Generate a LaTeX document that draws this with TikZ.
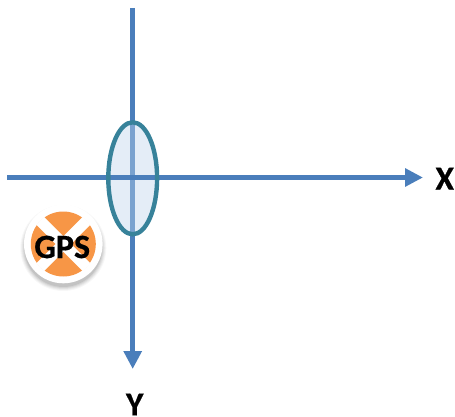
\documentclass[tikz,border=0pt]{standalone}
\usepackage{fontspec}
\setmainfont{Carlito}[BoldFeatures={FakeBold=0.6}]
\usetikzlibrary{arrows.meta}
\definecolor{axisblue}{HTML}{4A7EBB}
\definecolor{lenstone}{HTML}{37829A}
\definecolor{lensfill}{HTML}{BED4EC}
\definecolor{gpsorange}{HTML}{F79646}
\tikzset{
  x=1pt,y=-1pt,
  axis/.style={draw=axisblue,line width=5pt,-{Triangle[length=18pt,width=17.5pt,sep=0pt]}},
  axislabel/.style={font=\bfseries\fontsize{33.5}{33.5}\selectfont,text=black,inner sep=0pt},
  gpstext/.style={font=\bfseries\fontsize{34}{34}\selectfont,text=black,inner sep=0pt},
}
\begin{document}
\begin{tikzpicture}
\useasboundingbox (0,0) rectangle (455,417);
\coordinate (xs) at (7,177.5);
\coordinate (xe) at (423,177.5);
\coordinate (ys) at (132.7,8);
\coordinate (ye) at (132.7,369);
\draw[axis] (ys) -- (ye);
\fill[lensfill,fill opacity=0.42] (132.7,178.3) ellipse [x radius=24.4,y radius=56];
\draw[axis] (xs) -- (xe);
\draw[lenstone,line width=4.4pt] (132.7,178.3) ellipse [x radius=24.4,y radius=56];
\foreach \r/\o in {43/0.03,42/0.04,41/0.05,40/0.06,39/0.08}{
  \fill[black,opacity=\o] (63.3,248) circle (\r);
}
\fill[white] (63.3,244) circle (39.3);
\fill[gpsorange] (63.3,244) circle (32.5);
\begin{scope}
  \clip (63.3,244) circle (33);
  \draw[white,line width=11pt] (36.3,217) -- (90.3,271);
  \draw[white,line width=11pt] (90.3,217) -- (36.3,271);
\end{scope}
\node[gpstext] (gps) at (62.2,247) {GPS};
\node[axislabel] (xl) at (444.7,178.7) {X};
\node[axislabel] (yl) at (134.7,404.5) {Y};
\end{tikzpicture}
\end{document}
